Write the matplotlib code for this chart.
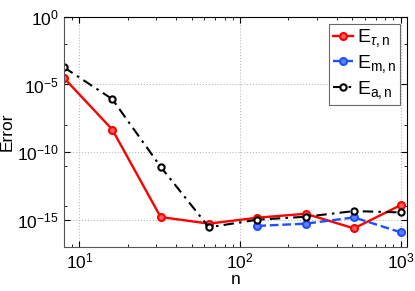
import numpy as np
import matplotlib
matplotlib.use("Agg")
import matplotlib.pyplot as plt
from matplotlib.ticker import LogLocator, NullFormatter

plt.rcParams['font.family'] = ['Liberation Sans', 'DejaVu Sans']
plt.rcParams['mathtext.fontset'] = 'custom'
plt.rcParams['mathtext.rm'] = 'Liberation Sans'
plt.rcParams['mathtext.it'] = 'Liberation Sans:italic'

# data (log10 of the error)
n = [8, 16, 32, 64, 128, 256, 512, 1000]
log_e_tau = [-4.51, -8.33, -14.8, -15.29, -14.85, -14.56, -15.64, -13.92]
n_m = [128, 256, 512, 1000]
log_e_m = [-15.46, -15.29, -14.83, -15.93]
log_e_a = [-3.73, -6.08, -11.08, -15.56, -15.0, -14.78, -14.36, -14.46]

e_tau = 10.0 ** np.array(log_e_tau)
e_m = 10.0 ** np.array(log_e_m)
e_a = 10.0 ** np.array(log_e_a)

fig = plt.figure(figsize=(4.15, 2.91), dpi=100)
ax = fig.add_axes([0.154, 0.152, 0.826, 0.79])

ax.loglog(n, e_tau, '-o', color='red', lw=1.7, ms=5, mfc='#ff6060', mew=1.5,
          label=r'$\mathrm{E}_{\tau,\mathrm{n}}$')
ax.loglog(n_m, e_m, '--o', color='#1f4fff', lw=1.7, ms=5, mfc='#6080ff', mew=1.5,
          label=r'$\mathrm{E}_{\mathrm{m,n}}$')
ax.loglog(n, e_a, color='black', lw=1.5, marker='o', ms=4.5, mfc='white', mew=1.5,
          dashes=(5, 2.5, 1.2, 2.5), label=r'$\mathrm{E}_{\mathrm{a,n}}$')

ax.set_xlim(8, 1090)
ax.set_ylim(1e-17, 1e0)
ax.set_yticks([1e-15, 1e-10, 1e-5, 1e0])
ax.yaxis.set_minor_locator(LogLocator(base=10, subs=[]))
ax.yaxis.set_minor_formatter(NullFormatter())
ax.xaxis.set_minor_locator(LogLocator(base=10, subs=np.arange(2, 10)))
ax.xaxis.set_minor_formatter(NullFormatter())

ax.tick_params(which='both', direction='in', top=True, right=True, labelsize=12.5)
ax.tick_params(which='major', length=4)
ax.tick_params(which='minor', length=2)
ax.grid(True, which='major', ls=':', color='#bbbbbb', lw=0.8)

for side in ['left', 'bottom']:
    ax.spines[side].set_color('#555555')
for side in ['top', 'right']:
    ax.spines[side].set_color('black')

ax.set_xlabel('n', fontsize=12.5, labelpad=0)
ax.set_ylabel('Error', fontsize=12.5, labelpad=2)

leg = ax.legend(loc='upper right', fontsize=14, frameon=True, fancybox=False,
                handlelength=1.0, handletextpad=0.2, borderpad=0.2,
                labelspacing=0.2, borderaxespad=0.35)
leg.get_frame().set_edgecolor('#444444')
leg.get_frame().set_linewidth(0.8)

fig.savefig('out.png', dpi=100)
